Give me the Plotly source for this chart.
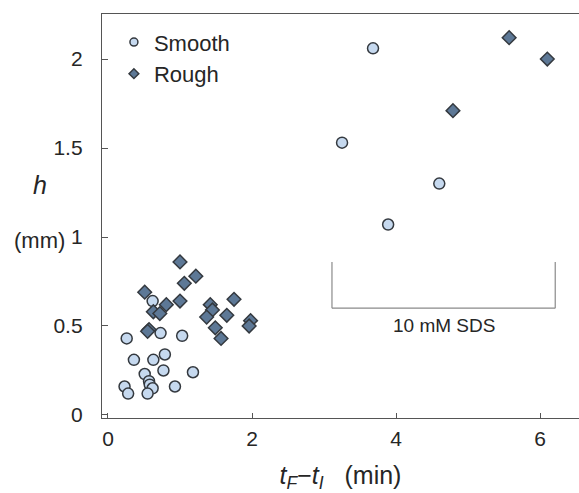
import plotly.graph_objects as go

# Smooth (circles)
smooth_x = [3.68, 3.25, 4.60, 3.89,
            0.62, 0.73, 1.03, 0.26, 0.36, 0.63, 0.79, 0.51, 0.77, 1.18,
            0.57, 0.58, 0.62, 0.93, 0.23, 0.28, 0.55]
smooth_y = [2.06, 1.53, 1.30, 1.07,
            0.64, 0.46, 0.445, 0.43, 0.31, 0.31, 0.34, 0.23, 0.25, 0.24,
            0.19, 0.17, 0.15, 0.16, 0.16, 0.12, 0.12]

# Rough (diamonds)
rough_x = [5.57, 6.10, 4.79,
           1.00, 1.22, 1.06, 0.51, 0.81, 1.00, 0.63, 0.72, 1.42, 1.45,
           1.75, 1.37, 1.65, 1.49, 1.57, 1.98, 1.96, 0.57, 0.55]
rough_y = [2.12, 2.00, 1.71,
           0.86, 0.78, 0.74, 0.69, 0.62, 0.64, 0.58, 0.57, 0.62, 0.59,
           0.65, 0.55, 0.56, 0.49, 0.43, 0.53, 0.50, 0.48, 0.47]

x_ticks = [0, 2, 4, 6]
y_ticks = [0, 0.5, 1, 1.5, 2]
y_tick_labels = ["0", "0.5", "1", "1.5", "2"]

FONT = "Liberation Sans, Arial, Helvetica, sans-serif"
TXT = "#262626"
SMOOTH_FILL = "#c6d9ef"
ROUGH_FILL = "#5d7896"
EDGE = "#34393f"

fig = go.Figure()
fig.add_trace(go.Scatter(x=smooth_x, y=smooth_y, mode="markers", showlegend=False,
                         marker=dict(symbol="circle", size=11, color=SMOOTH_FILL,
                                     line=dict(color=EDGE, width=1.5))))
fig.add_trace(go.Scatter(x=rough_x, y=rough_y, mode="markers", showlegend=False,
                         marker=dict(symbol="diamond", size=10.5, color=ROUGH_FILL,
                                     line=dict(color=EDGE, width=1.5))))
# legend entries with small markers
fig.add_trace(go.Scatter(x=[None], y=[None], mode="markers", name="Smooth",
                         marker=dict(symbol="circle", size=8, color=SMOOTH_FILL,
                                     line=dict(color=EDGE, width=1.5))))
fig.add_trace(go.Scatter(x=[None], y=[None], mode="markers", name="Rough",
                         marker=dict(symbol="diamond", size=7.5, color=ROUGH_FILL,
                                     line=dict(color=EDGE, width=1.5))))

# bracket "10 mM SDS"
br = dict(color="#8a8a8a", width=1.2)
fig.add_shape(type="line", x0=3.11, x1=3.11, y0=0.86, y1=0.60, line=br)
fig.add_shape(type="line", x0=6.21, x1=6.21, y0=0.86, y1=0.60, line=br)
fig.add_shape(type="line", x0=3.11, x1=6.21, y0=0.60, y1=0.60, line=br)
fig.add_annotation(x=4.66, y=0.505, text="10 mM SDS", showarrow=False,
                   font=dict(family=FONT, size=19, color=TXT))

# y-axis title
fig.add_annotation(xref="paper", yref="y", x=-0.13, y=1.29, text="<i>h</i>",
                   xanchor="center", showarrow=False,
                   font=dict(family=FONT, size=25, color=TXT))
fig.add_annotation(xref="paper", yref="y", x=-0.13, y=0.98, text="(mm)",
                   xanchor="center", showarrow=False,
                   font=dict(family=FONT, size=22, color=TXT))

fig.update_layout(
    width=579, height=493,
    margin=dict(l=102, r=0, t=14, b=75),
    plot_bgcolor="white", paper_bgcolor="white",
    font=dict(family=FONT, size=21, color=TXT),
    legend=dict(x=0.025, y=0.982, xanchor="left", yanchor="top",
                bgcolor="rgba(0,0,0,0)", font=dict(size=22), itemwidth=30,
                tracegroupgap=0),
    xaxis=dict(range=[-0.083, 6.54], tickvals=x_ticks, ticks="inside", ticklen=5,
               tickcolor="#555", showline=True, linecolor="#555", linewidth=1.3,
               mirror=True, showgrid=False, zeroline=False, ticklabelstandoff=2,
               title=dict(text="<i>t<sub>F</sub></i>\u2212<i>t<sub>I</sub></i>&nbsp;&nbsp;&nbsp;(min)",
                          font=dict(size=25), standoff=19)),
    yaxis=dict(range=[-0.017, 2.253], tickvals=y_ticks, ticktext=y_tick_labels,
               ticks="inside", ticklen=6, tickcolor="#555", showline=True,
               linecolor="#555", linewidth=1.3, showgrid=False, zeroline=False,
               ticklabelstandoff=14),
)

fig.write_html("out.html", config={"displayModeBar": False},
               post_script="document.body.style.margin='0px';")
